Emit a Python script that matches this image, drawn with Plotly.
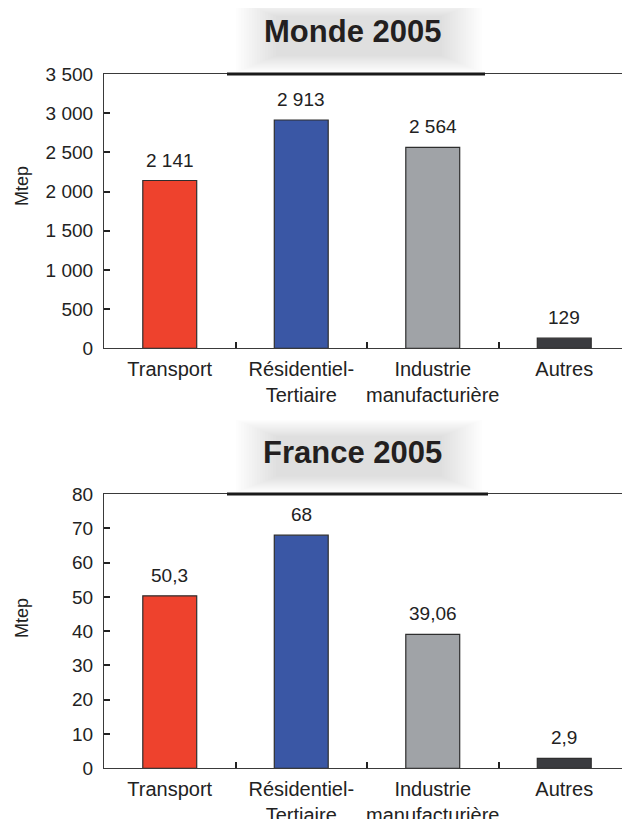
import plotly.graph_objects as go

# page body has an 8px default margin, so the figure starts at (8, 8)
OFF = 8
W, H = 630 - OFF, 819 - OFF

categories = ["Transport", "Résidentiel-<br>Tertiaire", "Industrie<br>manufacturière", "Autres"]
monde_values = [2141, 2913, 2564, 129]
monde_labels = ["2 141", "2 913", "2 564", "129"]
france_values = [50.3, 68, 39.06, 2.9]
france_labels = ["50,3", "68", "39,06", "2,9"]
colors = ["#EE422D", "#3A57A5", "#A0A3A7", "#3B3C40"]

monde_ticks = [0, 500, 1000, 1500, 2000, 2500, 3000, 3500]
monde_ticktext = ["0", "500", "1 000", "1 500", "2 000", "2 500", "3 000", "3 500"]
france_ticks = [0, 10, 20, 30, 40, 50, 60, 70, 80]
france_ticktext = [str(v) for v in france_ticks]

FONT = "Liberation Sans, Arial, sans-serif"
AX = "#3a3a3a"

def px_x(p):
    return (p - OFF) / W

def px_y(p):
    return 1 - (p - OFF) / H

# plot areas in (window) pixels
top_dom = [px_y(348.3), px_y(74)]
bot_dom = [px_y(768.3), px_y(494)]
x_dom = [px_x(104), 1.0]

fig = go.Figure()
fig.add_trace(go.Bar(x=categories, y=monde_values, marker=dict(color=colors, line=dict(color="#2e2e2e", width=1.2)),
                     width=0.41, xaxis="x", yaxis="y", showlegend=False, hoverinfo="skip"))
fig.add_trace(go.Bar(x=categories, y=france_values, marker=dict(color=colors, line=dict(color="#2e2e2e", width=1.2)),
                     width=0.41, xaxis="x2", yaxis="y2", showlegend=False, hoverinfo="skip"))

xcommon = dict(showline=True, linecolor=AX, linewidth=1.2, mirror=True, ticks="inside", ticklen=6,
               tickwidth=1.5, tickcolor="#222", tickson="boundaries", showgrid=False, zeroline=False,
               tickangle=0, automargin=False, ticklabelstandoff=3,
               tickfont=dict(family=FONT, size=20, color="#222"), domain=x_dom, fixedrange=True)
ycommon = dict(showline=True, linecolor=AX, linewidth=1.2, ticks="inside", ticklen=6, tickwidth=1.5,
               tickcolor="#222", showgrid=False, zeroline=False, automargin=False,
               tickfont=dict(family=FONT, size=19, color="#222"), ticklabelstandoff=6)

annotations = []
for i, (v, t) in enumerate(zip(monde_values, monde_labels)):
    annotations.append(dict(x=categories[i], y=v, xref="x", yref="y", text=t, showarrow=False,
                            yanchor="bottom", yshift=8, font=dict(family=FONT, size=19, color="#222")))
for i, (v, t) in enumerate(zip(france_values, france_labels)):
    annotations.append(dict(x=categories[i], y=v, xref="x2", yref="y2", text=t, showarrow=False,
                            yanchor="bottom", yshift=8, font=dict(family=FONT, size=19, color="#222")))

# y-axis titles
for cy in (186, 618):
    annotations.append(dict(x=px_x(22), y=px_y(cy), xref="paper", yref="paper", text="Mtep", textangle=-90,
                            showarrow=False, xanchor="center", yanchor="middle",
                            font=dict(family=FONT, size=18, color="#222")))

# titles
for txt, cy in (("Monde 2005", 32), ("France 2005", 452.5)):
    annotations.append(dict(x=px_x(352), y=px_y(cy), xref="paper", yref="paper", text="<b>%s</b>" % txt,
                            showarrow=False, xanchor="center", yanchor="middle",
                            font=dict(family=FONT, size=31, color="#231f20")))

shapes = []
# soft glow behind titles
for cy, top, bottom in ((32, 0, 74), (452.5, 420, 494)):
    n = 16
    for k in range(n):
        f = k / (n - 1)
        x0 = 236 + f * 40
        x1 = 482 - f * 40
        y0 = max(top, cy - 40) + f * 16
        y1 = cy + 40 - f * 16
        shapes.append(dict(type="rect", xref="paper", yref="paper", x0=px_x(x0), x1=px_x(x1),
                           y0=px_y(y0), y1=px_y(y1), line=dict(width=0),
                           fillcolor="rgba(70,70,85,0.012)", layer="below"))
# thick dark segments on top frame
for yy, xa, xb in ((74, 227, 485), (494, 227, 488)):
    shapes.append(dict(type="line", xref="paper", yref="paper", x0=px_x(xa), x1=px_x(xb),
                       y0=px_y(yy), y1=px_y(yy), line=dict(color="#1a1a1a", width=3)))

fig.update_layout(
    width=W, height=H, margin=dict(l=0, r=0, t=0, b=0, autoexpand=False),
    paper_bgcolor="white", plot_bgcolor="rgba(0,0,0,0)",
    xaxis=dict(**xcommon, anchor="y"),
    yaxis=dict(**ycommon, domain=top_dom, range=[0, 3500], tickvals=monde_ticks, ticktext=monde_ticktext, anchor="x"),
    xaxis2=dict(**xcommon, anchor="y2"),
    yaxis2=dict(**ycommon, domain=bot_dom, range=[0, 80], tickvals=france_ticks, ticktext=france_ticktext, anchor="x2"),
    annotations=annotations, shapes=shapes, bargap=0.59,
    font=dict(family=FONT),
)

fig.write_html("out.html")
